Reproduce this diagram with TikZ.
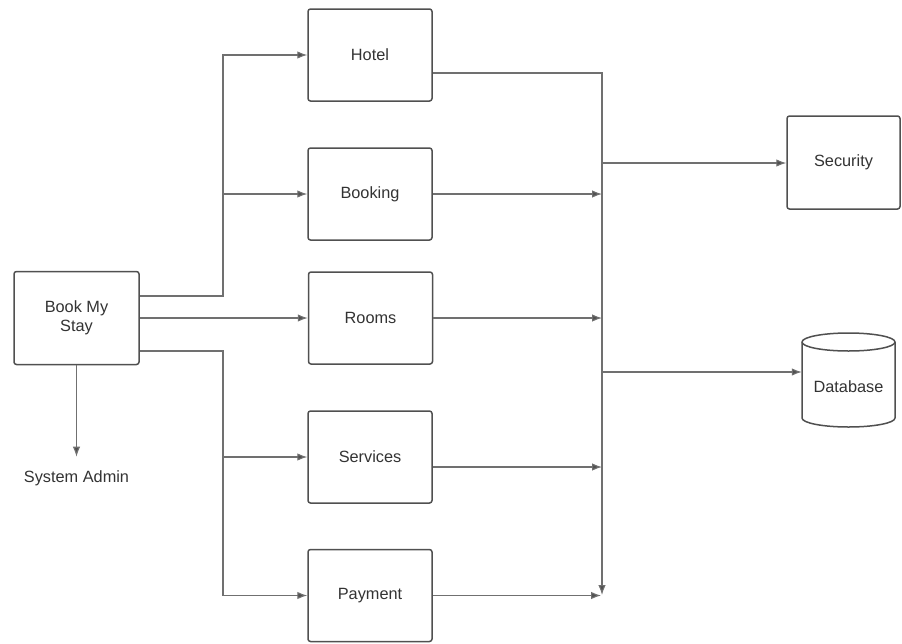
\documentclass[tikz,border=0pt]{standalone}
\usepackage{fontspec}
\setmainfont{Liberation Sans}
\usetikzlibrary{arrows.meta}
\definecolor{linegray}{HTML}{707070}
\definecolor{boxgray}{HTML}{505050}
\definecolor{textgray}{HTML}{333333}
\tikzset{
  box/.style={draw=boxgray, line width=1.5pt, rounded corners=2.5pt, fill=white,
    minimum width=124pt, minimum height=92pt, inner sep=0pt, align=center,
    text=textgray, font=\fontsize{16.3}{19.5}\selectfont},
  conn/.style={draw=linegray, line width=1.1pt},
  arr/.style={conn, -{Latex[length=10pt,width=7.5pt,fill=boxgray]}},
  lbl/.style={text=textgray, font=\fontsize{16.3}{19.5}\selectfont, inner sep=0pt}
}
\begin{document}
\begin{tikzpicture}[x=1pt,y=-1pt]
\useasboundingbox (0,0) rectangle (902,643);
% boxes
\node[box, minimum width=125pt, minimum height=93pt] (bms) at (76.5,318) {Book My\\Stay};
\node[box] (hotel) at (370,55) {Hotel};
\node[box] (booking) at (370,194) {Booking};
\node[box] (rooms) at (370.5,318) {Rooms};
\node[box] (services) at (370,457) {Services};
\node[box] (payment) at (370,595.5) {Payment};
\node[box, minimum width=113pt, minimum height=93pt] (security) at (843.5,162.5) {Security};
\node[lbl] (sa) at (76.5,478) {System Admin};
% database cylinder
\draw[draw=boxgray, line width=1.5pt, fill=white] (802,342) -- (802,418) arc (180:0:46.5 and 9) -- (895,342) arc (0:-180:46.5 and 9) -- cycle;
\draw[draw=boxgray, line width=1.5pt] (802,342) arc (180:0:46.5 and 9);
\node[minimum width=93pt, minimum height=94pt, inner sep=0pt] (db) at (848.5,380) {};
\node[lbl] (dbtext) at (848.5,387) {Database};
% bus coordinates
\coordinate (lt) at (223,296);
\coordinate (lb) at (223,351);
\coordinate (rt) at (602,73);
\coordinate (rb) at (602,595);
\coordinate (rsec) at (602,163);
\coordinate (rdb) at (602,372);
% left side connectors
\draw[arr] ([yshift=22pt]bms.east) -- (lt) |- (hotel.west);
\draw[arr] (lt |- booking.west) -- (booking.west);
\draw[arr] (bms.east) -- (rooms.west);
\draw[arr] ([yshift=-33pt]bms.east) -- (lb) |- (payment.west);
\draw[arr] (lb |- services.west) -- (services.west);
\draw[arr] (bms.south) -- ([yshift=13.5pt]sa.north);
% right side connectors
\draw[arr] ([yshift=-18pt]hotel.east) -- (rt) -- (rb);
\draw[arr] (booking.east) -- (booking.east -| rt);
\draw[arr] (rooms.east) -- (rooms.east -| rt);
\draw[arr] ([yshift=-10pt]services.east) -- ([yshift=-10pt]services.east -| rt);
\draw[arr] (payment.east) -- ([xshift=-1pt]payment.east -| rt);
\draw[arr] (rsec) -- (rsec -| security.west);
\draw[arr] (rdb) -- (rdb -| db.west);
\end{tikzpicture}
\end{document}
